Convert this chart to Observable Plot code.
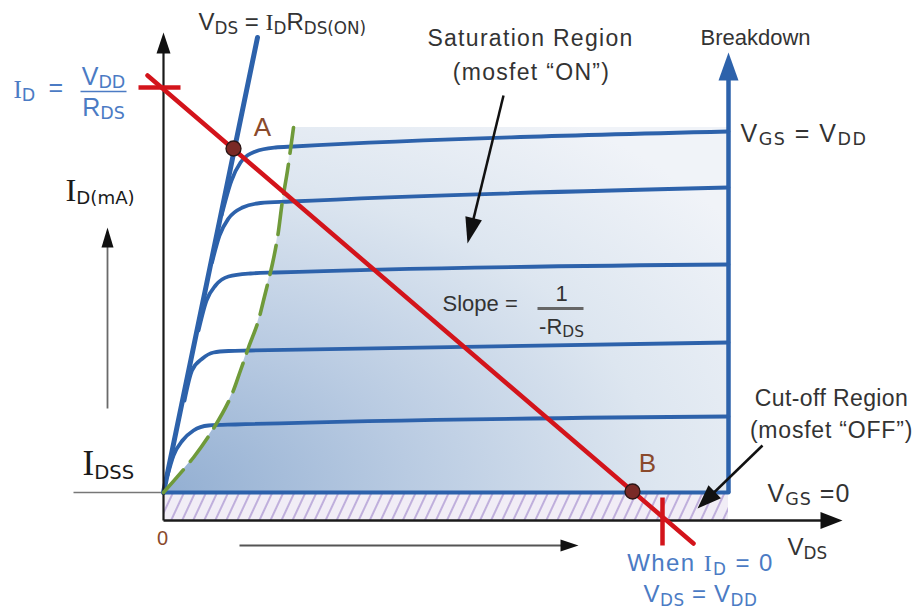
<!DOCTYPE html>
<html><head><meta charset="utf-8">
<script src="https://cdn.jsdelivr.net/npm/d3@7"></script>
<script src="https://cdn.jsdelivr.net/npm/@observablehq/plot@0.6"></script>
<style>body{margin:0;background:#fff;} svg{display:block;}</style>
</head><body><div id="chart"></div>
<script>
// Units: VDS (horizontal), ID (vertical) in arbitrary diagram units.
const breakdownVds = 56.5;
const ohmicLine = [{vds:0, id:2.8}, {vds:9.4, id:48.3}];
const vgsVdd = [{vds:5.8,id:30.5},{vds:6.8,id:34.0},{vds:7.7,id:35.8},{vds:9.2,id:36.9},{vds:11.2,id:37.3},{vds:13.0,id:37.4},{vds:56.5,id:38.9}];
const vgs4 = [{vds:4.85,id:25.8},{vds:5.6,id:28.5},{vds:6.5,id:30.2},{vds:7.9,id:31.3},{vds:9.7,id:31.75},{vds:12.7,id:31.9},{vds:56.5,id:33.3}];
const vgs3 = [{vds:3.5,id:19.0},{vds:4.3,id:22.0},{vds:5.2,id:23.5},{vds:6.5,id:24.4},{vds:8.7,id:24.7},{vds:11.2,id:24.8},{vds:56.5,id:25.6}];
const vgs2 = [{vds:2.1,id:12.0},{vds:2.85,id:15.0},{vds:3.9,id:16.2},{vds:5.0,id:16.8},{vds:6.5,id:16.95},{vds:8.7,id:17.0},{vds:56.5,id:17.8}];
const vgs1 = [{vds:0.4,id:4.5},{vds:1.0,id:6.5},{vds:1.9,id:8.0},{vds:3.0,id:9.0},{vds:4.5,id:9.5},{vds:7.2,id:9.6},{vds:56.5,id:10.4}];
const vgs0 = [{vds:0,id:2.8},{vds:56.5,id:2.8}];
const pinchOff = [
  {vds:0,id:2.8},{vds:3.0,id:6.3},{vds:5.0,id:9.2},{vds:6.7,id:12.3},{vds:7.7,id:15.0},
  {vds:8.5,id:17.3},{vds:9.4,id:19.7},{vds:10.0,id:22.0},{vds:10.9,id:25.7},{vds:11.4,id:28.3},
  {vds:11.9,id:32.0},{vds:12.4,id:35.0},{vds:13.0,id:39.3}
];
const cutoffBand = [{x1:0, x2:56.5, y1:0, y2:2.8}];
const idssRef = [{x1:-9.0, y1:2.8, x2:0, y2:2.8}];
const loadLine = [{vds:-1.6, id:44.5}, {vds:53.0, id:-2.3}];
const loadTicks = [
  {x1:-2.5, y1:43.3, x2:1.7, y2:43.3},
  {x1:49.9, y1:2.3, x2:49.9, y2:-2.5}
];
const operatingPoints = [{name:"A", vds:7.0, id:37.2}, {name:"B", vds:46.9, id:2.9}];
const arrows = [
  {name:"yaxis", x1:0, y1:0, x2:0, y2:48.8},
  {name:"xaxis", x1:0, y1:0, x2:67.9, y2:0},
  {name:"breakdown", x1:56.5, y1:2.8, x2:56.5, y2:46.8},
  {name:"idup", x1:-5.6, y1:11.2, x2:-5.6, y2:29.3},
  {name:"vdsright", x1:7.6, y1:-2.5, x2:41.5, y2:-2.5},
  {name:"saturation", x1:34.0, y1:42.5, x2:30.4, y2:27.7},
  {name:"cutoff", x1:59.9, y1:7.5, x2:53.4, y2:1.2}
];
const fractionBars = [
  {name:"vddrds", x1:-8.3, y1:42.9, x2:-3.7, y2:42.9},
  {name:"slope", x1:37.4, y1:21.2, x2:42.0, y2:21.2}
];
const labelsStart = [
  {text:"V_{DS} = ^{I}_{D}R_{DS(ON)}", x:3.5, y:49.8, kind:"dark", size:24},
  {text:"V_{GS} = V_{DD}", x:57.7, y:38.7, kind:"dark", size:25},
  {text:"^{I}_{D}", x:-15.0, y:43.1, kind:"blue", size:25},
  {text:"=", x:-11.5, y:43.3, kind:"blue", size:25},
  {text:"!{I}_{D(mA)}", x:-9.8, y:32.8, kind:"black", size:26},
  {text:"!{I}_{DSS}", x:-8.1, y:5.4, kind:"black", size:28},
  {text:"Slope =", x:27.9, y:21.7, kind:"dark", size:22},
  {text:"V_{GS} =0", x:60.4, y:2.7, kind:"dark", size:25},
  {text:"V_{DS}", x:62.4, y:-2.7, kind:"dark", size:24}
];
const labelsMiddle = [
  {text:"Saturation Region", x:36.7, y:48.2, kind:"dark", size:23},
  {text:"(mosfet “ON”)", x:36.8, y:44.8, kind:"dark", size:23},
  {text:"Breakdown", x:59.2, y:48.3, kind:"dark", size:22},
  {text:"V_{DD}", x:-6.0, y:44.4, kind:"blue", size:25},
  {text:"R_{DS}", x:-6.0, y:41.3, kind:"blue", size:25},
  {text:"A", x:9.9, y:39.3, kind:"brown", size:26},
  {text:"B", x:48.4, y:5.7, kind:"brown", size:26},
  {text:"0", x:-0.1, y:-1.8, kind:"brown", size:20},
  {text:"1", x:39.8, y:22.7, kind:"dark", size:22},
  {text:"-R_{DS}", x:39.8, y:19.4, kind:"dark", size:22},
  {text:"Cut-off Region", x:66.8, y:12.2, kind:"dark", size:23},
  {text:"(mosfet “OFF”)", x:66.8, y:9.0, kind:"dark", size:23},
  {text:"When ^{I}_{D} = 0", x:53.7, y:-4.3, kind:"blue", size:24},
  {text:"V_{DS} = V_{DD}", x:53.7, y:-7.4, kind:"blue", size:24}
];

// ---- styles ----
const BLUE = "#2d62ab";
const textColors = {dark:"#333333", blue:"#4b7bc4", brown:"#8a4a2c", black:"#1a1a1a"};
const letterSpacing = {
  "Saturation Region":1.3, "(mosfet “ON”)":1.3, "V_{GS} = V_{DD}":1.5,
  "(mosfet “OFF”)":0.8, "When ^{I}_{D} = 0":1.4, "V_{GS} =0":1.0, "Cut-off Region":0.4,
  "V_{DS} = V_{DD}":0.6
};
const arrowStyle = {
  yaxis:{len:21, wid:14, line:"#1a1a1a", head:"#111", w:2.2},
  xaxis:{len:22, wid:17, line:"#1a1a1a", head:"#111", w:2.6},
  breakdown:{len:28, wid:20, line:BLUE, head:BLUE, w:4.5},
  idup:{len:20, wid:12, line:"#6a6a6a", head:"#111", w:1.8},
  vdsright:{len:18, wid:12, line:"#555", head:"#111", w:1.8},
  saturation:{len:26, wid:17, line:"#111", head:"#111", w:2.5},
  cutoff:{len:24, wid:18, line:"#111", head:"#111", w:2.5}
};
const barStyle = {vddrds:{c:"#4b7bc4", w:1.6}, slope:{c:"#666", w:3}};
const SANS = "Liberation Sans, Arial, sans-serif";
const SUBFONT = "DejaVu Sans, Verdana, sans-serif";
const SERIF = "Liberation Serif, Times New Roman, serif";
const PX = 10; // pixels per unit on both axes

function headSymbol(L, W){
  return {draw(ctx){ ctx.moveTo(0,0); ctx.lineTo(-W/2, L); ctx.lineTo(W/2, L); ctx.closePath(); }};
}

const arrowMarks = arrows.flatMap(a => {
  const s = arrowStyle[a.name];
  const dx = a.x2 - a.x1, dy = a.y2 - a.y1, d = Math.hypot(dx, dy);
  const back = (s.len * 0.6) / PX;
  const shaft = [{x1:a.x1, y1:a.y1, x2:a.x2 - dx/d*back, y2:a.y2 - dy/d*back}];
  const rot = Math.atan2(dx, dy) * 180 / Math.PI;
  return [
    Plot.link(shaft, {x1:"x1", y1:"y1", x2:"x2", y2:"y2", stroke:s.line, strokeWidth:s.w}),
    Plot.dot([a], {x:"x2", y:"y2", symbol:headSymbol(s.len, s.wid), rotate:rot, fill:s.head, stroke:"none", r:5})
  ];
});

const curveMarks = [vgsVdd, vgs4, vgs3, vgs2, vgs1].map(c =>
  Plot.line(c, {x:"vds", y:"id", stroke:BLUE, strokeWidth:3.8, curve:"monotone-x", strokeLinecap:"round"}));

const chart = Plot.plot({
  width: 923, height: 609, margin: 0,
  x: {domain: [-16.3, 76.0], axis: null},
  y: {domain: [-8.9, 52.0], axis: null},
  style: {background: "#fff", fontFamily: SANS},
  marks: [
    Plot.areaX(pinchOff, {y:"id", x1:"vds", x2: () => breakdownVds, curve:"catmull-rom", fill:"url(#satGrad)"}),
    Plot.rect(cutoffBand, {x1:"x1", x2:"x2", y1:"y1", y2:"y2", fill:"url(#hatch)"}),
    Plot.link(idssRef, {x1:"x1", y1:"y1", x2:"x2", y2:"y2", stroke:"#777", strokeWidth:1.6}),
    ...curveMarks,
    Plot.line(vgs0, {x:"vds", y:"id", stroke:BLUE, strokeWidth:4.2}),
    Plot.line(ohmicLine, {x:"vds", y:"id", stroke:BLUE, strokeWidth:5, strokeLinecap:"round"}),
    ...arrowMarks,
    Plot.line(pinchOff, {x:"vds", y:"id", stroke:"#6f9a3a", strokeWidth:3.6, strokeDasharray:"30,11", curve:"catmull-rom"}),
    Plot.line(loadLine, {x:"vds", y:"id", stroke:"#d3141b", strokeWidth:4.5}),
    Plot.link(loadTicks, {x1:"x1", y1:"y1", x2:"x2", y2:"y2", stroke:"#d3141b", strokeWidth:4.5}),
    Plot.dot(operatingPoints, {x:"vds", y:"id", r:7.5, fill:"#7a2a26", stroke:"#2a1515", strokeWidth:1.3}),
    ...fractionBars.map(b => Plot.link([b], {x1:"x1", y1:"y1", x2:"x2", y2:"y2", stroke:barStyle[b.name].c, strokeWidth:barStyle[b.name].w})),
    Plot.text(labelsStart, {x:"x", y:"y", text:"text", textAnchor:"start", fontSize:"size", fill:d => textColors[d.kind], fontFamily:SANS}),
    Plot.text(labelsMiddle, {x:"x", y:"y", text:"text", textAnchor:"middle", fontSize:"size", fill:d => textColors[d.kind], fontFamily:SANS})
  ]
});

document.getElementById("chart").appendChild(chart);

// defs: gradient and hatch pattern
const defs = d3.select(chart).insert("defs", ":first-child");
const g = defs.append("radialGradient").attr("id","satGrad")
  .attr("cx", 0).attr("cy", 1).attr("r", 1.25).attr("fx", 0).attr("fy", 1);
[[0,"#93afd2"],[0.35,"#b9cbe2"],[0.7,"#dde6f0"],[1,"#f0f3f8"]].forEach(([o,c]) =>
  g.append("stop").attr("offset", o).attr("stop-color", c));
const p = defs.append("pattern").attr("id","hatch").attr("patternUnits","userSpaceOnUse")
  .attr("width", 10).attr("height", 10).attr("patternTransform","rotate(25)");
p.append("rect").attr("width",10).attr("height",10).attr("fill","#f1edf6");
p.append("line").attr("x1",5).attr("x2",5).attr("y1",0).attr("y2",10).attr("stroke","#a58ece").attr("stroke-width",1.3);

// rich text: _{..} subscript, ^{..} serif, !{..} large serif
chart.querySelectorAll("text").forEach(t => {
  const s = t.textContent;
  if (letterSpacing[s] != null) t.style.letterSpacing = letterSpacing[s] + "px";
  if (!/[_!^]\{/.test(s)) return;
  const base = parseFloat(getComputedStyle(t).fontSize);
  t.textContent = "";
  let shift = 0;
  const re = /([_!^])\{([^}]*)\}|([^_!^]+)/g;
  let m;
  while ((m = re.exec(s))) {
    const ts = document.createElementNS("http://www.w3.org/2000/svg", "tspan");
    let target = 0;
    if (m[1] === "_") { ts.setAttribute("font-size", base * 0.7); ts.setAttribute("font-family", SUBFONT); target = base * 0.14; ts.textContent = m[2]; }
    else if (m[1] === "!") { ts.setAttribute("font-family", SERIF); ts.setAttribute("font-size", base * 1.25); ts.textContent = m[2]; }
    else if (m[1] === "^") { ts.setAttribute("font-family", SERIF); ts.textContent = m[2]; }
    else ts.textContent = m[3];
    if (target !== shift) { ts.setAttribute("dy", target - shift); shift = target; }
    t.appendChild(ts);
  }
});
</script>
</body></html>
